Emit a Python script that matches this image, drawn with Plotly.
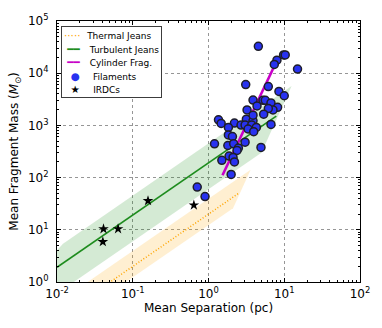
import plotly.graph_objects as go

# ---- data ----
filament_sep = [4.55, 9.8, 10.3, 8.01, 7.39, 14.97, 3.10, 6.16, 8.51, 10.0,
                3.87, 5.24, 5.62, 6.68, 4.37, 8.17, 3.23, 7.10, 6.16, 5.35,
                1.355, 1.47, 2.20, 3.16, 3.87, 2.69, 3.04, 3.72, 3.33, 4.28,
                6.68, 1.83, 3.95, 1.20, 1.83, 2.07, 1.80, 2.15, 2.48, 3.04,
                2.38, 4.93, 1.87, 2.11, 1.50, 2.20, 1.99, 0.71, 0.90, 3.87]
filament_mass = [32700, 22400, 22400, 17750, 14700, 12000, 6060, 5550, 4470, 3700,
                 3060, 3020, 3020, 2690, 2360, 2220, 1980, 1980, 2100, 1640,
                 1280, 1090, 1107, 1318, 1225, 1014, 1014, 1014, 853, 916,
                 1045, 916, 759, 443, 656, 610, 412, 443, 367, 477,
                 332, 378, 259, 244, 214, 200, 115, 66, 43.4, 1570]

irdc_sep = [0.0411, 0.0403, 0.064, 0.159, 0.641]
irdc_mass = [10.4, 5.9, 10.4, 35.9, 29.7]

thermal_sep = [0.01, 2.5]
thermal_mass = [0.198, 50]
turbulent_sep = [0.01, 7.85]
turbulent_mass = [1.91, 1500]
cylinder_sep = [1.53, 7.54]
cylinder_mass = [111, 14500]

green_band_sep = [0.005, 0.012, 12.5, 5.0, 0.005]
green_band_mass = [1.34, 5.42, 5700, 300, 0.30]
orange_band_sep = [0.005, 3.6, 2.11, 0.005]
orange_band_mass = [0.197, 142, 26, 0.0615]

x_tickvals = [0.01, 0.1, 1, 10, 100]
x_ticktext = ["10<sup>-2</sup>", "10<sup>-1</sup>", "10<sup>0</sup>", "10<sup>1</sup>", "10<sup>2</sup>"]
y_tickvals = [1, 10, 100, 1000, 10000, 100000]
y_ticktext = ["10<sup>0</sup>", "10<sup>1</sup>", "10<sup>2</sup>", "10<sup>3</sup>", "10<sup>4</sup>", "10<sup>5</sup>"]

legend_labels = ["Thermal Jeans", "Turbulent Jeans", "Cylinder Frag.", "Filaments", "IRDCs"]

FONT = "DejaVu Sans"
C_THERM = "orange"
C_TURB = "rgb(30,140,30)"
C_CYL = "rgb(200,0,200)"
C_FIL = "rgb(40,50,240)"

fig = go.Figure()

fig.add_trace(go.Scatter(x=green_band_sep, y=green_band_mass, fill="toself",
                         fillcolor="rgba(0,128,0,0.17)", line=dict(width=0),
                         mode="lines", showlegend=False, hoverinfo="skip"))
fig.add_trace(go.Scatter(x=orange_band_sep, y=orange_band_mass, fill="toself",
                         fillcolor="rgba(255,165,0,0.18)", line=dict(width=0),
                         mode="lines", showlegend=False, hoverinfo="skip"))

fig.add_trace(go.Scatter(x=thermal_sep, y=thermal_mass, mode="lines", name=legend_labels[0],
                         line=dict(color=C_THERM, width=1.5, dash="1px,2px")))
fig.add_trace(go.Scatter(x=turbulent_sep, y=turbulent_mass, mode="lines", name=legend_labels[1],
                         line=dict(color=C_TURB, width=1.6)))
fig.add_trace(go.Scatter(x=cylinder_sep, y=cylinder_mass, mode="lines", name=legend_labels[2],
                         line=dict(color=C_CYL, width=2.6)))
fig.add_trace(go.Scatter(x=filament_sep, y=filament_mass, mode="markers", name=legend_labels[3],
                         marker=dict(symbol="circle", size=8, color=C_FIL,
                                     line=dict(color="rgb(30,30,40)", width=1.5))))
fig.add_trace(go.Scatter(x=irdc_sep, y=irdc_mass, mode="markers", name=legend_labels[4],
                         marker=dict(symbol="star", size=8, color="black",
                                     line=dict(width=0))))

minor_x = [m * 10 ** e for e in range(-2, 2) for m in range(2, 10)]
minor_y = [m * 10 ** e for e in range(0, 5) for m in range(2, 10)]

axis_common = dict(type="log", showline=True, linecolor="black", linewidth=1, mirror="allticks",
                   ticks="inside", ticklen=4, tickcolor="black", showgrid=True,
                   gridcolor="rgb(150,150,150)", griddash="dot", gridwidth=1, zeroline=False,
                   tickfont=dict(family=FONT, size=12, color="black"))

fig.update_xaxes(range=[-2, 2], tickmode="array", tickvals=x_tickvals, ticktext=x_ticktext,
                 ticklabelstandoff=1,
                 minor=dict(tickmode="array", tickvals=minor_x, ticks="inside", ticklen=2,
                            tickcolor="black", showgrid=False),
                 title=dict(text="Mean Separation (pc)", font=dict(family=FONT, size=12, color="black"),
                            standoff=0),
                 **axis_common)
fig.update_yaxes(range=[0, 5], tickmode="array", tickvals=y_tickvals, ticktext=y_ticktext,
                 ticklabelstandoff=5,
                 minor=dict(tickmode="array", tickvals=minor_y, ticks="inside", ticklen=2,
                            tickcolor="black", showgrid=False),
                 title=dict(text="Mean Fragment Mass (<i>M</i><sub>⊙</sub>)",
                            font=dict(family=FONT, size=12, color="black"), standoff=6),
                 **axis_common)

# legend box, built as a text block (matplotlib-like compact spacing)
legend_syms = [
    f'<span style="color:{C_THERM}">·····</span>',
    f'<span style="color:{C_TURB}">━━</span>',
    f'<span style="color:{C_CYL}"><b>━━</b></span>',
    f'<span style="color:{C_FIL}">●</span>',
    '<span style="color:black">★</span>',
]
legend_pads = ["", " ", " ", "  ", "  "]
legend_lines = []
for sym, pad, lab in zip(legend_syms, legend_pads, legend_labels):
    legend_lines.append(f'{pad}{sym}{pad}  <span style="font-size:9px">{lab}</span>')
fig.add_annotation(xref="paper", yref="paper", x=0.012, y=0.982, xanchor="left", yanchor="top",
                   align="left", showarrow=False, text="<br>".join(legend_lines),
                   font=dict(family=FONT, size=10.4, color="black"),
                   bgcolor="white", bordercolor="rgb(60,60,60)", borderwidth=1, borderpad=2)

fig.update_layout(
    width=382, height=328,
    margin=dict(l=57, r=21, t=17, b=46),
    paper_bgcolor="white", plot_bgcolor="white",
    font=dict(family=FONT, size=10, color="black"),
    showlegend=False,
)

fig.write_html("out.html", config={"displayModeBar": False},
               post_script="document.body.style.margin='0px';")
